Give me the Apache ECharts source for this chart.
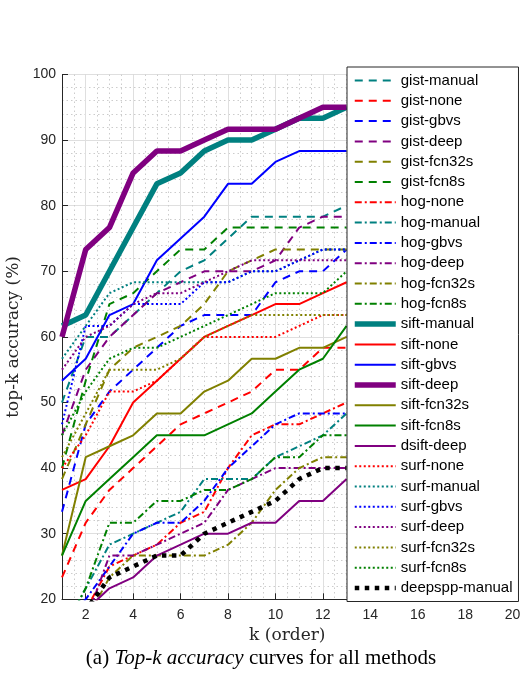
<!DOCTYPE html>
<html>
<head>
<meta charset="utf-8">
<title>Top-k accuracy</title>
<script src="https://cdn.jsdelivr.net/npm/echarts@6/dist/echarts.min.js"></script>
<style>
  html, body { margin: 0; padding: 0; background: #fff; }
  #chart { width: 522px; height: 685px; }
</style>
</head>
<body>
<div id="chart"></div>
<script>
// k = 1..13 (the rest of the curves is hidden behind the legend)
const kValues = [1, 2, 3, 4, 5, 6, 7, 8, 9, 10, 11, 12, 13];
const xTicks = [2, 4, 6, 8, 10, 12, 14, 16, 18, 20];

const gistManual = [50, 60, 60, 63.33, 66.67, 70, 71.67, 75, 78.33, 78.33, 78.33, 78.33, 80];
const gistNone = [23.33, 31.67, 36.67, 40, 43.33, 46.67, 48.33, 50, 51.67, 55, 55, 58.33, 58.33];
const gistGbvs = [33.33, 46.67, 51.67, 55, 58.33, 61.67, 63.33, 63.33, 63.33, 68.33, 70, 70, 73.33];
const gistDeep = [45, 55, 60, 63.33, 66.67, 68.33, 70, 70, 70, 71.67, 76.67, 78.33, 78.33];
const gistFcn32s = [38.33, 46.67, 55, 58.33, 60, 61.67, 65, 70, 71.67, 73.33, 73.33, 73.33, 73.33];
const gistFcn8s = [40, 53.33, 65, 66.67, 70, 73.33, 73.33, 76.67, 76.67, 76.67, 76.67, 76.67, 76.67];
const hogNone = [15, 18.33, 25, 26.67, 28.33, 31.67, 33.33, 40, 45, 46.67, 46.67, 48.33, 50];
const hogManual = [15, 21.67, 28.33, 30, 31.67, 33.33, 38.33, 38.33, 38.33, 41.67, 43.33, 45, 48.33];
const hogGbvs = [16.67, 20, 25, 30, 31.67, 31.67, 35, 40, 43.33, 46.67, 48.33, 48.33, 48.33];
const hogDeep = [13.33, 16.67, 26.67, 26.67, 28.33, 30, 31.67, 36.67, 38.33, 40, 40, 40, 40];
const hogFcn32s = [13.33, 16.67, 23.33, 26.67, 26.67, 26.67, 26.67, 28.33, 31.67, 36.67, 40, 41.67, 41.67];
const hogFcn8s = [15, 21.67, 31.67, 31.67, 35, 35, 36.67, 36.67, 38.33, 41.67, 41.67, 45, 45];
const siftManual = [61.67, 63.33, 70, 76.67, 83.33, 85, 88.33, 90, 90, 91.67, 93.33, 93.33, 95];
const siftNone = [36.67, 38.33, 43.33, 50, 53.33, 56.67, 60, 61.67, 63.33, 65, 65, 66.67, 68.33];
const siftGbvs = [53.33, 56.67, 63.33, 65, 71.67, 75, 78.33, 83.33, 83.33, 86.67, 88.33, 88.33, 88.33];
const siftDeep = [60, 73.33, 76.67, 85, 88.33, 88.33, 90, 91.67, 91.67, 91.67, 93.33, 95, 95];
const siftFcn32s = [26.67, 41.67, 43.33, 45, 48.33, 48.33, 51.67, 53.33, 56.67, 56.67, 58.33, 58.33, 60];
const siftFcn8s = [26.67, 35, 38.33, 41.67, 45, 45, 45, 46.67, 48.33, 51.67, 55, 56.67, 61.67];
const dsiftDeep = [15, 18.33, 21.67, 23.33, 26.67, 28.33, 30, 30, 31.67, 31.67, 35, 35, 38.33];
const surfNone = [40, 45, 51.67, 51.67, 53.33, 56.67, 60, 60, 60, 60, 61.67, 63.33, 63.33];
const surfManual = [56.67, 61.67, 66.67, 68.33, 68.33, 68.33, 68.33, 68.33, 70, 70, 71.67, 73.33, 73.33];
const surfGbvs = [46.67, 61.67, 61.67, 65, 65, 65, 68.33, 68.33, 70, 70, 71.67, 73.33, 73.33];
const surfDeep = [55, 60, 61.67, 65, 66.67, 66.67, 68.33, 70, 71.67, 71.67, 71.67, 71.67, 71.67];
const surfFcn32s = [41.67, 48.33, 55, 55, 55, 56.67, 60, 61.67, 63.33, 63.33, 63.33, 63.33, 63.33];
const surfFcn8s = [45, 51.67, 56.67, 58.33, 58.33, 60, 61.67, 63.33, 65, 66.67, 66.67, 66.67, 70];
const deepsppManual = [15, 18.33, 23.33, 25, 26.67, 26.67, 30, 31.67, 33.33, 35, 38.33, 40, 40];

const TEAL = '#008080', RED = '#ff0000', BLUE = '#0000ff',
      PURPLE = '#800080', OLIVE = '#808000', GREEN = '#008000';
const DASH = [8, 6], DASHDOT = [7, 3, 2, 3], DOT = [2, 2.5];

// name, data, color, line type, width  (legend order)
const lines = [
  ['gist-manual', gistManual, TEAL, DASH, 2],
  ['gist-none', gistNone, RED, DASH, 2],
  ['gist-gbvs', gistGbvs, BLUE, DASH, 2],
  ['gist-deep', gistDeep, PURPLE, DASH, 2],
  ['gist-fcn32s', gistFcn32s, OLIVE, DASH, 2],
  ['gist-fcn8s', gistFcn8s, GREEN, DASH, 2],
  ['hog-none', hogNone, RED, DASHDOT, 2],
  ['hog-manual', hogManual, TEAL, DASHDOT, 2],
  ['hog-gbvs', hogGbvs, BLUE, DASHDOT, 2],
  ['hog-deep', hogDeep, PURPLE, DASHDOT, 2],
  ['hog-fcn32s', hogFcn32s, OLIVE, DASHDOT, 2],
  ['hog-fcn8s', hogFcn8s, GREEN, DASHDOT, 2],
  ['sift-manual', siftManual, TEAL, 'solid', 5.5],
  ['sift-none', siftNone, RED, 'solid', 2],
  ['sift-gbvs', siftGbvs, BLUE, 'solid', 2],
  ['sift-deep', siftDeep, PURPLE, 'solid', 5.5],
  ['sift-fcn32s', siftFcn32s, OLIVE, 'solid', 2],
  ['sift-fcn8s', siftFcn8s, GREEN, 'solid', 2],
  ['dsift-deep', dsiftDeep, PURPLE, 'solid', 2],
  ['surf-none', surfNone, RED, DOT, 2],
  ['surf-manual', surfManual, TEAL, DOT, 2],
  ['surf-gbvs', surfGbvs, BLUE, DOT, 2],
  ['surf-deep', surfDeep, PURPLE, DOT, 2],
  ['surf-fcn32s', surfFcn32s, OLIVE, DOT, 2],
  ['surf-fcn8s', surfFcn8s, GREEN, DOT, 2],
  ['deepspp-manual', deepsppManual, '#000000', [4.5, 5.5], 4.5]
];

const series = lines.map(function (l) {
  return {
    name: l[0],
    type: 'line',
    xAxisIndex: 1,
    data: kValues.map(function (k, i) { return [k, l[1][i]]; }),
    symbol: 'none',
    showSymbol: false,
    clip: true,
    lineStyle: { color: l[2], type: l[3], width: l[4], cap: 'butt' },
    itemStyle: { color: l[2] },
    emphasis: { disabled: true }
  };
});

// legend shows only the line, no marker
const legendData = lines.map(function (l) {
  return {
    name: l[0],
    lineStyle: { width: l[4], type: l[3], color: l[2], opacity: 1 },
    itemStyle: { opacity: 0, borderWidth: 0 }
  };
});

const AX = '#262626';
const chart = echarts.init(document.getElementById('chart'));
chart.setOption({
  animation: false,
  textStyle: { fontFamily: 'Liberation Sans' },
  title: {
    text: '(a) {i|Top-k accuracy} curves for all methods',
    left: 'center',
    top: 643,
    textStyle: {
      fontFamily: 'Liberation Serif', fontSize: 21, fontWeight: 'normal', color: '#000',
      rich: { i: { fontFamily: 'Liberation Serif', fontSize: 21, fontStyle: 'italic', color: '#000' } }
    }
  },
  grid: { left: 62, top: 74.5, right: 9.4, bottom: 85.7, containLabel: false, outerBoundsMode: 'none' },
  xAxis: [
    {
      // minor grid only
      type: 'value', min: 1, max: 20, interval: 0.5, position: 'top',
      axisLine: { show: false }, axisTick: { show: false }, axisLabel: { show: false },
      splitLine: { show: true, lineStyle: { color: '#cccccc', type: [1.5, 3], width: 1 } }
    },
    {
      type: 'value', min: 1, max: 20, position: 'bottom',
      name: 'k (order)', nameLocation: 'middle', nameGap: 26,
      nameTextStyle: { fontFamily: 'DejaVu Serif', fontSize: 17, color: AX },
      axisLine: { show: true, lineStyle: { color: AX, width: 1 } },
      axisTick: { show: true, inside: true, length: 6, lineStyle: { color: AX }, customValues: xTicks },
      axisLabel: { customValues: xTicks, fontSize: 14, color: AX, margin: 9 },
      splitLine: { show: true, lineStyle: { color: '#dfdfdf', width: 1 } }
    }
  ],
  yAxis: {
    type: 'value', min: 20, max: 100, interval: 10,
    name: 'top-k accuracy (%)', nameLocation: 'middle', nameGap: 32,
    nameTextStyle: { fontFamily: 'DejaVu Serif', fontSize: 17, color: AX },
    axisLine: { show: true, lineStyle: { color: AX, width: 1 } },
    axisTick: { show: true, inside: true, length: 6, lineStyle: { color: AX } },
    axisLabel: { fontSize: 14, color: AX, margin: 6 },
    splitLine: { show: true, lineStyle: { color: '#dfdfdf', width: 1 } },
    minorTick: { show: false, splitNumber: 5 },
    minorSplitLine: { show: true, lineStyle: { color: '#cccccc', type: [1.5, 3], width: 1 } }
  },
  legend: {
    orient: 'vertical',
    left: 347,
    top: 67,
    padding: [6, 6, 6, 5],
    itemWidth: 41,
    itemHeight: 14,
    itemGap: 5.3,
    backgroundColor: '#ffffff',
    borderColor: AX,
    borderWidth: 1,
    borderRadius: 0,
    selectedMode: false,
    textStyle: { fontSize: 15, color: '#000', fontFamily: 'Liberation Sans' },
    data: legendData
  },
  series: series
});
</script>
</body>
</html>
